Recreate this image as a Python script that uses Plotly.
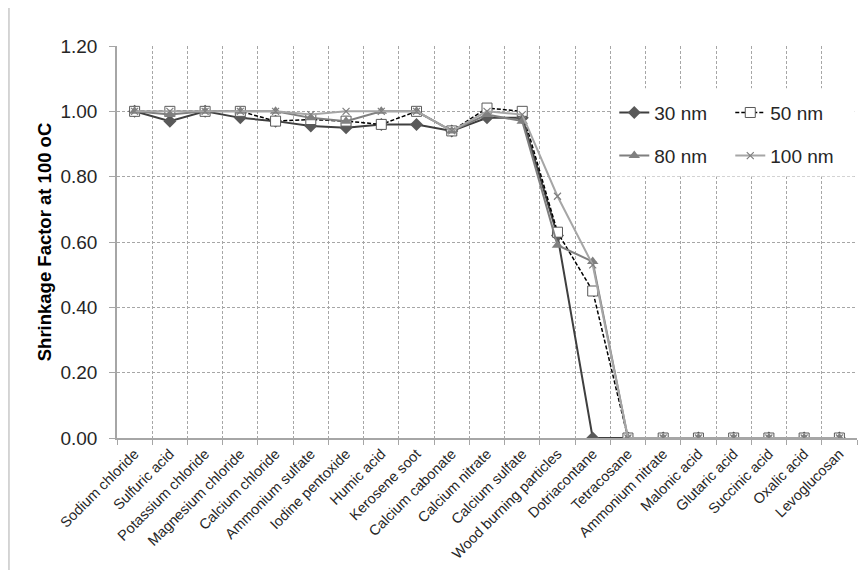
import plotly.graph_objects as go

categories = ["Sodium chloride", "Sulfuric acid", "Potassium chloride", "Magnesium chloride",
              "Calcium chloride", "Ammonium sulfate", "Iodine pentoxide", "Humic acid",
              "Kerosene soot", "Calcium cabonate", "Calcium nitrate", "Calcium sulfate",
              "Wood burning particles", "Dotriacontane", "Tetracosane", "Ammonium nitrate",
              "Malonic acid", "Glutaric acid", "Succinic acid", "Oxalic acid", "Levoglucosan"]

nm30 = [1.00, 0.97, 1.00, 0.98, 0.97, 0.955, 0.95, 0.96, 0.96, 0.94, 0.98, 0.98, 0.62, 0.00,
        0.00, 0.00, 0.00, 0.00, 0.00, 0.00, 0.00]
nm50 = [1.00, 1.00, 1.00, 1.00, 0.97, 0.975, 0.97, 0.96, 1.00, 0.94, 1.01, 1.00, 0.63, 0.45,
        0.00, 0.00, 0.00, 0.00, 0.00, 0.00, 0.00]
nm80 = [1.00, 0.99, 1.00, 1.00, 1.00, 0.98, 0.97, 1.00, 1.00, 0.94, 0.99, 0.97, 0.59, 0.54,
        0.00, 0.00, 0.00, 0.00, 0.00, 0.00, 0.00]
nm100 = [1.00, 1.00, 1.00, 1.00, 1.00, 0.99, 1.00, 1.00, 1.00, 0.94, 1.00, 0.99, 0.74, 0.53,
         0.00, 0.00, 0.00, 0.00, 0.00, 0.00, 0.00]

y_ticks = [0.0, 0.2, 0.4, 0.6, 0.8, 1.0, 1.2]

FONT = "Liberation Sans, Arial, sans-serif"

fig = go.Figure()
fig.add_trace(go.Scatter(
    x=categories, y=nm30, name="30 nm", mode="lines+markers", legend="legend",
    line=dict(color="#3f3f3f", width=2),
    marker=dict(symbol="diamond", size=10, color="#595959", line=dict(width=0))))
fig.add_trace(go.Scatter(
    x=categories, y=nm50, name="50 nm", mode="lines+markers", legend="legend",
    line=dict(color="#000000", width=1.5, dash="4px,2px"),
    marker=dict(symbol="square", size=10, color="#ffffff", line=dict(color="#595959", width=1))))
fig.add_trace(go.Scatter(
    x=categories, y=nm80, name="80 nm", mode="lines+markers", legend="legend2",
    line=dict(color="#7f7f7f", width=2),
    marker=dict(symbol="triangle-up", size=10, color="#808080", line=dict(width=0))))
fig.add_trace(go.Scatter(
    x=categories, y=nm100, name="100 nm", mode="lines+markers", legend="legend2",
    line=dict(color="#a6a6a6", width=2),
    marker=dict(symbol="x-thin", size=7, color="#7f7f7f", line=dict(color="#7f7f7f", width=1.2))))

legend_common = dict(orientation="h", bgcolor="rgba(0,0,0,0)", borderwidth=0,
                     font=dict(family=FONT, size=19, color="#262626"),
                     entrywidth=71, entrywidthmode="pixels",
                     xanchor="left", yanchor="middle", itemwidth=30)

fig.update_layout(
    width=858, height=562,
    margin=dict(l=109, r=9, t=38, b=132, autoexpand=False),
    paper_bgcolor="white", plot_bgcolor="white",
    font=dict(family=FONT, color="#262626"),
    showlegend=True,
    legend=dict(x=0.672, y=0.83, **legend_common),
    legend2=dict(x=0.672, y=0.72, **legend_common),
    xaxis=dict(
        type="category", tickson="boundaries", range=[-0.5, len(categories) - 0.5],
        showgrid=True, gridcolor="#a6a6a6", gridwidth=1, griddash="3px,2px",
        showline=True, linecolor="#a6a6a6", linewidth=1.5,
        ticks="outside", ticklen=5, tickcolor="#a6a6a6",
        tickangle=-45, tickfont=dict(family=FONT, size=14.5, color="#262626"),
        automargin=False, zeroline=False,
    ),
    yaxis=dict(
        range=[0, 1.2], tickvals=y_ticks, tickformat=".2f",
        showgrid=True, gridcolor="#a6a6a6", gridwidth=1, griddash="3px,2px",
        showline=True, linecolor="#a6a6a6", linewidth=1.5,
        ticks="outside", ticklen=6, tickcolor="#a6a6a6",
        ticklabelstandoff=8,
        tickfont=dict(family=FONT, size=19, color="#262626"),
        title=dict(text="<b>Shrinkage Factor at 100 oC</b>", standoff=4,
                   font=dict(family=FONT, size=18.5, color="#000000")),
        automargin=False, zeroline=False,
    ),
    shapes=[
        dict(type="rect", xref="paper", yref="paper", x0=0.669, x1=0.997, y0=0.667, y1=0.892,
             fillcolor="white", line=dict(width=0), layer="above"),
        dict(type="rect", xref="paper", yref="paper", x0=-0.146, x1=1.2, y0=-0.6, y1=1.105,
             fillcolor="rgba(0,0,0,0)", line=dict(color="#c8c8c8", width=1.5), layer="below"),
    ],
)

fig.write_html("out.html")
